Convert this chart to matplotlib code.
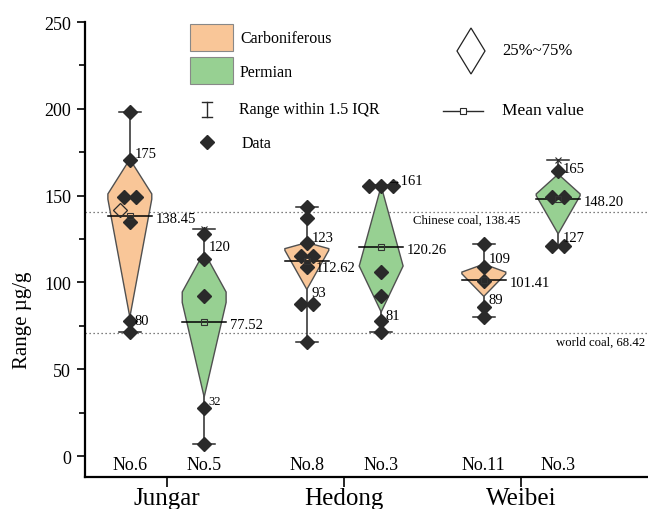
import numpy as np
import matplotlib
matplotlib.use("Agg")
import matplotlib.pyplot as plt
from matplotlib.patches import Polygon, Rectangle
from matplotlib.lines import Line2D

plt.rcParams['font.family'] = ['Liberation Serif', 'DejaVu Serif']

# groups and boxes
groups = ['Jungar', 'Hedong', 'Weibei']
box_names = ['No.6', 'No.5', 'No.8', 'No.3', 'No.11', 'No.3']
box_group = [0, 0, 1, 1, 2, 2]
box_period = ['Carboniferous', 'Permian', 'Carboniferous', 'Permian', 'Carboniferous', 'Permian']

# diamond shape: top vertex, upper shoulder, lower shoulder, bottom vertex
shape_top = [171, 117.5, 123, 155.5, 110.6, 162.4]
shoulder_hi = [151, 94.5, 119.5, 109.5, 106, 151]
shoulder_lo = [148, 88.5, 118.5, 109.5, 105, 150]
shape_bot = [80, 34, 96, 83, 92, 128]

# whiskers (range within 1.5 IQR)
whisk_lo = [71.4, 7, 66, 71.5, 80, 121]
whisk_hi = [198, 131, 143.5, 156, 122, 170.5]

means = [138.45, 77.52, 112.62, 120.26, 101.41, 148.20]
top_labels = ['175', '120', '123', '→161', '109', '165']
bot_labels = ['80', '32', '93', '81', '89', '127']

data = [
    [198, 170.5, 149, 149, 134.8, 78, 71.4],
    [128, 113.5, 92, 28, 7],
    [143.5, 137, 123, 115, 115, 109, 87.5, 87.5, 66],
    [155.5, 155.5, 155.5, 106, 92, 78, 71.5],
    [122, 109, 101, 86, 80],
    [164, 149, 149, 121, 121],
]
hollow_pts = [142, None, None, None, None, None]
x_marks = [None, 131, None, None, None, 170.5]

coal_levels = [140.5, 71.2]
coal_labels = ['Chinese coal, 138.45', 'world coal, 68.42']

colors = {'Carboniferous': '#F9C698', 'Permian': '#97D092'}
edge = '#505050'
dark = '#2a2a2a'

fig = plt.figure(figsize=(6.48, 5.10), dpi=100)
ax = fig.add_axes([85 / 648, 1 - 478 / 510, 1 - 85 / 648, (478 - 23) / 510])

offset = 0.21
hw = 0.124
cap = 0.062
xpos = [box_group[i] + 1 + (-offset if i % 2 == 0 else offset) for i in range(len(box_names))]

for i, x in enumerate(xpos):
    # whisker
    ax.plot([x, x], [whisk_lo[i], whisk_hi[i]], color=dark, lw=1.1, zorder=1)
    for yv in (whisk_lo[i], whisk_hi[i]):
        ax.plot([x - cap, x + cap], [yv, yv], color=dark, lw=1.1, zorder=1)
    # diamond box
    verts = [(x, shape_top[i]), (x + hw, shoulder_hi[i]), (x + hw, shoulder_lo[i]),
             (x, shape_bot[i]), (x - hw, shoulder_lo[i]), (x - hw, shoulder_hi[i])]
    ax.add_patch(Polygon(verts, closed=True, facecolor=colors[box_period[i]],
                         edgecolor=edge, lw=1.0, zorder=2))
    # mean
    ax.plot([x - hw, x + hw], [means[i], means[i]], color='black', lw=1.1, zorder=3)
    ax.plot(x, means[i], marker='s', ms=4, mfc='none', mec='#333333', mew=0.8, zorder=5)

    # data points, spread out equal values
    vals = np.array(data[i])
    used = np.zeros(len(vals), bool)
    for j, v in enumerate(vals):
        if used[j]:
            continue
        same = np.where((np.abs(vals - v) < 1.0) & ~used)[0]
        used[same] = True
        n = len(same)
        offs = (np.arange(n) - (n - 1) / 2) * 0.068
        ax.plot(x + offs, vals[same], ls='none', marker='D', ms=6.8, color=dark, zorder=4)
    if hollow_pts[i] is not None:
        ax.plot(x - 0.055, hollow_pts[i], marker='D', ms=7, mfc='none', mec=dark, mew=0.9, zorder=4)
    if x_marks[i] is not None:
        ax.plot(x, x_marks[i], marker='x', ms=5, color=dark, mew=0.8, zorder=4)

    # labels
    ax.text(x + 0.025, shape_top[i] + 3, top_labels[i], fontsize=10.5, va='center', ha='left', zorder=6)
    ax.text(x + 0.025, shape_bot[i] - 2, bot_labels[i], fontsize=10.5 if i != 1 else 9,
            va='center', ha='left', zorder=6)
    mdx = 0.05 if i == 2 else 0.145
    mdy = -4 if i == 2 else -1.5
    ax.text(x + mdx, means[i] + mdy, f'{means[i]:.2f}', fontsize=10.5, va='center', ha='left', zorder=6)
    ax.text(x, -4.6, box_names[i], fontsize=13, ha='center', va='center')

# reference coal lines
for lv in coal_levels:
    ax.axhline(lv, color='#555555', lw=0.9, ls=(0, (1, 2.2)), zorder=0)
ax.text(2.39, coal_levels[0] - 4.5, coal_labels[0], fontsize=9.2, ha='left', va='center')
ax.text(3.70, coal_levels[1] - 5.5, coal_labels[1], fontsize=9.2, ha='right', va='center')

ax.set_xlim(1 - 82 / 177, 1 + (648 - 167) / 177)
ax.set_ylim(-12, 250)
ax.set_xticks([1, 2, 3])
ax.set_xticklabels(groups, fontsize=18)
ax.set_yticks(np.arange(0, 251, 50))
ax.set_yticks(np.arange(25, 251, 50), minor=True)
ax.tick_params(axis='y', labelsize=13, length=6, width=1.2, direction='out', pad=4)
ax.tick_params(axis='y', which='minor', length=4, width=1.2)
ax.tick_params(axis='x', length=7, width=1.2, direction='out', pad=0)
for s in ('top', 'right'):
    ax.spines[s].set_visible(False)
for s in ('left', 'bottom'):
    ax.spines[s].set_linewidth(1.6)

fig.text(23 / 648, 1 - 320 / 510, 'Range µg/g', rotation=90, fontsize=15, ha='center', va='center')

# legend (drawn by hand, figure pixels)
def fx(px):
    return px / 648

def fy(py):
    return 1 - py / 510

fig.patches.append(Rectangle((fx(190), fy(52)), fx(43), 27 / 510, facecolor=colors['Carboniferous'],
                             edgecolor='#888888', lw=0.8, transform=fig.transFigure))
fig.patches.append(Rectangle((fx(190), fy(85)), fx(43), 27 / 510, facecolor=colors['Permian'],
                             edgecolor='#888888', lw=0.8, transform=fig.transFigure))
fig.text(fx(240), fy(39), 'Carboniferous', fontsize=11.5, va='center')
fig.text(fx(240), fy(73), 'Permian', fontsize=11.5, va='center')
fig.lines.append(Line2D([fx(207), fx(207)], [fy(103), fy(118)], color=dark, lw=1, transform=fig.transFigure))
for py in (103, 118):
    fig.lines.append(Line2D([fx(202), fx(212)], [fy(py), fy(py)], color=dark, lw=1, transform=fig.transFigure))
fig.text(fx(239), fy(110), 'Range within 1.5 IQR', fontsize=11.5, va='center')
fig.lines.append(Line2D([fx(207)], [fy(143)], marker='D', ms=6.8, color=dark, ls='none', transform=fig.transFigure))
fig.text(fx(242), fy(144), 'Data', fontsize=11.5, va='center')
fig.patches.append(Polygon([(fx(471), fy(29)), (fx(485), fy(52)), (fx(471), fy(75)), (fx(457), fy(52))],
                           closed=True, facecolor='white', edgecolor='#222222', lw=0.9, transform=fig.transFigure))
fig.text(fx(502), fy(51), '25%~75%', fontsize=12, va='center')
fig.lines.append(Line2D([fx(443), fx(483)], [fy(112), fy(112)], color=dark, lw=1, transform=fig.transFigure))
fig.lines.append(Line2D([fx(463)], [fy(112)], marker='s', ms=4, mfc='white', mec=dark, mew=0.8,
                        transform=fig.transFigure))
fig.text(fx(502), fy(111), 'Mean value', fontsize=12.5, va='center')

fig.savefig('out.png', dpi=100)
